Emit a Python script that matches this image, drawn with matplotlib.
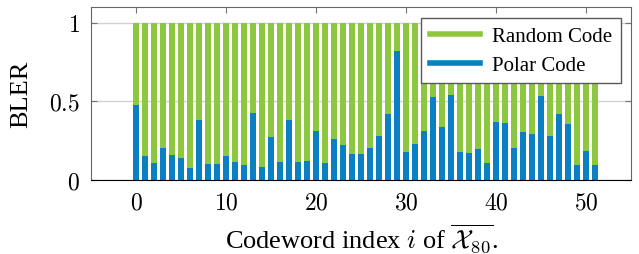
import matplotlib.pyplot as plt
import numpy as np

# data
idx = np.arange(52)
random_bler = [1.0] * 52
polar_bler = [0.475, 0.150, 0.108, 0.203, 0.157, 0.140, 0.074, 0.381, 0.102, 0.102,
              0.155, 0.117, 0.093, 0.428, 0.085, 0.271, 0.112, 0.383, 0.114, 0.123,
              0.314, 0.108, 0.263, 0.225, 0.167, 0.165, 0.205, 0.282, 0.422, 0.820,
              0.176, 0.231, 0.314, 0.528, 0.335, 0.542, 0.178, 0.174, 0.195, 0.110,
              0.369, 0.364, 0.205, 0.307, 0.290, 0.532, 0.278, 0.422, 0.358, 0.093,
              0.182, 0.097]
xticks = [0, 10, 20, 30, 40, 50]
yticks = [0, 0.5, 1]

green = '#8dc63f'
blue = '#0a7fc3'

plt.rcParams['font.family'] = ['Liberation Serif', 'DejaVu Serif']
plt.rcParams['mathtext.fontset'] = 'cm'
plt.rcParams['font.size'] = 17

fig = plt.figure(figsize=(6.39, 2.55), dpi=100)
ax = fig.add_axes([0.1424, 0.290, 0.845, 0.679])

ax.bar(idx, random_bler, width=0.63, color=green, edgecolor='none', zorder=2)
ax.bar(idx, polar_bler, width=0.63, color=blue, edgecolor='none', zorder=3)

ax.set_xlim(-5, 55)
ax.set_ylim(0, 1.1)
ax.set_xticks(xticks)
ax.set_xticklabels([f'${t}$' for t in xticks])
ax.set_yticks(yticks)
ax.set_yticklabels(['$0$', '$0.5$', '$1$'])
ax.tick_params(direction='in', length=4, top=True, right=True, color='0.45')
ax.tick_params(axis='y', pad=8)
ax.tick_params(axis='x', pad=9)
ax.grid(axis='y', color='0.82', linewidth=1, zorder=0)
ax.set_axisbelow(True)
for s in ['left', 'top', 'right']:
    ax.spines[s].set_color('0.4')
ax.spines['bottom'].set_color('black')
ax.spines['bottom'].set_zorder(5)

ax.set_ylabel('BLER', fontsize=19, labelpad=12)
ax.set_xlabel(r'Codeword index $i$ of $\overline{\mathcal{X}_{80}}$.', fontsize=19, labelpad=6)

handles = [plt.Line2D([], [], color=green, lw=4), plt.Line2D([], [], color=blue, lw=4)]
leg = ax.legend(handles, ['Random Code', 'Polar Code'], loc='upper right',
                bbox_to_anchor=(1.0, 0.995), fancybox=False, framealpha=1,
                edgecolor='0.35', fontsize=15, handlelength=2.4,
                borderpad=0.4, labelspacing=0.45, handletextpad=0.6)
leg.get_frame().set_linewidth(1)
leg.set_zorder(10)

fig.savefig('out.png', dpi=100)
